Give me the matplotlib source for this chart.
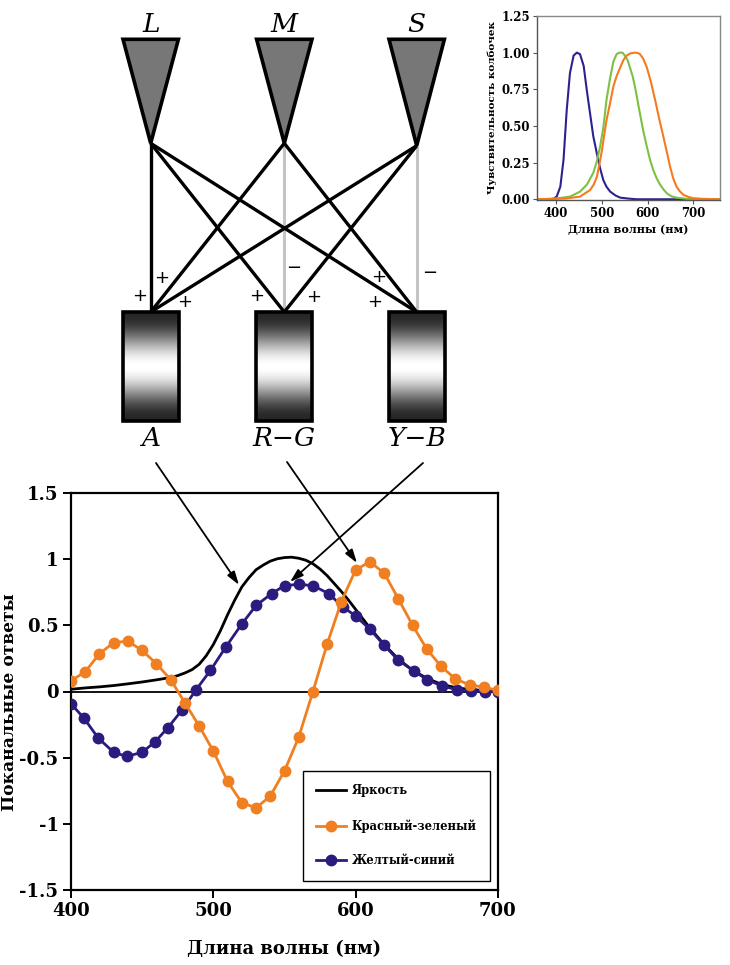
import numpy as np
import matplotlib
matplotlib.use("Agg")
import matplotlib.pyplot as plt
from matplotlib.patches import Polygon, Rectangle
from matplotlib.lines import Line2D

# ---------------- data ----------------
wl_lum = [400, 410, 420, 430, 440, 450, 460, 470, 475, 480, 485, 490, 495, 500, 505,
          510, 515, 520, 525, 530, 535, 540, 545, 550, 555, 560, 565, 570, 575, 580,
          585, 590, 595, 600, 605, 610, 620, 630, 640, 650, 660, 670, 680, 690, 700]
lum = [0.017, 0.027, 0.035, 0.045, 0.058, 0.072, 0.088, 0.106, 0.12, 0.14, 0.165, 0.205,
       0.27, 0.355, 0.46, 0.58, 0.69, 0.79, 0.86, 0.92, 0.955, 0.985, 1.003, 1.012, 1.015,
       1.007, 0.992, 0.965, 0.925, 0.875, 0.815, 0.755, 0.69, 0.62, 0.55, 0.48, 0.355,
       0.245, 0.16, 0.1, 0.055, 0.03, 0.015, 0.008, 0.004]

wl_rg = [400, 410, 420, 430, 440, 450, 460, 470, 480, 490, 500, 510, 520, 530, 540, 550,
         560, 570, 580, 590, 600, 610, 620, 630, 640, 650, 660, 670, 680, 690, 700]
rg = [0.08, 0.15, 0.285, 0.37, 0.38, 0.31, 0.21, 0.09, -0.085, -0.26, -0.45, -0.68,
      -0.84, -0.88, -0.79, -0.6, -0.345, 0.0, 0.36, 0.68, 0.92, 0.98, 0.895, 0.70, 0.5,
      0.32, 0.19, 0.096, 0.05, 0.033, 0.008]

wl_yb = [400, 409, 419, 430, 439, 450, 459, 468, 478, 488, 498, 509, 520, 530, 541, 550,
         560, 570, 581, 591, 600, 610, 620, 630, 641, 650, 661, 671, 681, 691, 700]
yb = [-0.093, -0.2, -0.35, -0.46, -0.49, -0.46, -0.38, -0.275, -0.14, 0.015, 0.16, 0.34,
      0.51, 0.65, 0.74, 0.8, 0.81, 0.8, 0.74, 0.64, 0.57, 0.47, 0.35, 0.235, 0.155, 0.09,
      0.04, 0.015, 0.005, 0.0, 0.0]

series_names = ["Яркость", "Красный-зеленый", "Желтый-синий"]
y_ticks = [-1.5, -1, -0.5, 0, 0.5, 1, 1.5]
y_tick_labels = ["-1.5", "-1", "-0.5", "0", "0.5", "1", "1.5"]
x_ticks = [400, 500, 600, 700]

# inset: cone sensitivities
s_wl = [360, 387, 395, 401, 409, 416, 423, 430, 438, 445, 452, 460, 467, 474, 481, 489,
        496, 503, 510, 518, 530, 540, 560, 576, 620, 700, 758]
s_cone = [0.0, 0.0, 0.005, 0.018, 0.086, 0.27, 0.61, 0.86, 0.98, 1.0, 0.99, 0.91, 0.74,
          0.585, 0.43, 0.31, 0.21, 0.13, 0.085, 0.052, 0.025, 0.011, 0.004, 0.0, 0.0, 0.0, 0.0]
m_wl = [358, 400, 430, 452, 467, 481, 489, 496, 503, 510, 518, 525, 532, 538, 545, 550,
        556, 561, 567, 572, 583, 590, 598, 605, 612, 620, 627, 635, 642, 652, 663, 685, 758]
m_cone = [0.0, 0.005, 0.018, 0.052, 0.1, 0.18, 0.26, 0.36, 0.49, 0.68, 0.83, 0.94, 0.99,
          1.0, 1.0, 0.98, 0.95, 0.9, 0.84, 0.77, 0.585, 0.47, 0.36, 0.27, 0.2, 0.14, 0.1,
          0.065, 0.04, 0.02, 0.011, 0.003, 0.0]
l_wl = [358, 420, 452, 474, 482, 489, 495, 500, 505, 510, 518, 525, 532, 540, 547, 554,
        562, 572, 578, 583, 590, 598, 607, 616, 625, 634, 642, 649, 656, 663, 670, 678,
        690, 700, 720, 758]
l_cone = [0.0, 0.005, 0.018, 0.063, 0.1, 0.154, 0.25, 0.335, 0.44, 0.54, 0.66, 0.77,
          0.84, 0.9, 0.95, 0.98, 0.995, 1.0, 0.998, 0.99, 0.96, 0.9, 0.8, 0.68, 0.55,
          0.43, 0.32, 0.22, 0.14, 0.086, 0.055, 0.03, 0.015, 0.007, 0.003, 0.0]

diagram_top = ["L", "M", "S"]
diagram_bottom = ["A", "R\u2212G", "Y\u2212B"]

# ---------------- styles ----------------
ORANGE = "#F07F22"
BLUE = "#2C1B7E"
GREEN = "#7CC242"
INSET_ORANGE = "#F47B20"
INSET_BLUE = "#2B2290"
SERIF = "DejaVu Serif"

fig = plt.figure(figsize=(7.30, 9.65), dpi=100)

# ---------------- main axes ----------------
ax = fig.add_axes([71 / 730, 1 - 890 / 965, 427 / 730, 397 / 965])
ax.axhline(0, color="black", lw=1.3, zorder=1)
ax.plot(wl_lum, lum, color="black", lw=2.0, zorder=3)
ax.plot(wl_yb, yb, color=BLUE, lw=2.0, marker="o", ms=7.5, zorder=4)
ax.plot(wl_rg, rg, color=ORANGE, lw=2.0, marker="o", ms=7.5, zorder=5)
ax.set_xlim(400, 700)
ax.set_ylim(-1.5, 1.5)
ax.set_xticks(x_ticks)
ax.set_xticklabels([str(v) for v in x_ticks])
ax.set_yticks(y_ticks)
ax.set_yticklabels(y_tick_labels)
for sp in ax.spines.values():
    sp.set_linewidth(1.6)
ax.tick_params(direction="out", length=6, width=1.4, pad=3)
for lab in ax.get_xticklabels() + ax.get_yticklabels():
    lab.set_fontfamily(SERIF)
    lab.set_fontweight("bold")
    lab.set_fontsize(13)
ax.set_xlabel("Длина волны (нм)", fontfamily=SERIF, fontweight="bold", fontsize=13,
              labelpad=14)
fig.text(10 / 730, 1 - 702 / 965, "Поканальные ответы", rotation=90, ha="center",
         va="center", fontfamily=SERIF, fontweight="bold", fontsize=12.3)

handles = [
    Line2D([], [], color="black", lw=2.0),
    Line2D([], [], color=ORANGE, lw=2.0, marker="o", ms=7.5),
    Line2D([], [], color=BLUE, lw=2.0, marker="o", ms=7.5),
]
leg = ax.legend(handles, series_names, loc="upper left", bbox_to_anchor=(0.543, 0.30),
                frameon=True, fancybox=False, edgecolor="black", framealpha=1,
                prop={"family": SERIF, "weight": "bold", "size": 8.3},
                handlelength=2.6, handletextpad=0.5, labelspacing=1.9, borderpad=1.15,
                numpoints=1, borderaxespad=0)
leg.get_frame().set_linewidth(1.0)

# ---------------- inset ----------------
ins = fig.add_axes([537 / 730, 1 - 200 / 965, 183 / 730, 184 / 965])
ins.plot(s_wl, s_cone, color=INSET_BLUE, lw=1.5)
ins.plot(m_wl, m_cone, color=GREEN, lw=1.5)
ins.plot(l_wl, l_cone, color=INSET_ORANGE, lw=1.5)
ins.set_xlim(358, 758)
ins.set_ylim(-0.005, 1.25)
ins.set_xticks([400, 500, 600, 700])
ins.set_yticks([0, 0.25, 0.5, 0.75, 1.0, 1.25])
ins.set_yticklabels(["0.00", "0.25", "0.50", "0.75", "1.00", "1.25"])
for name, sp in ins.spines.items():
    sp.set_linewidth(1.0)
    sp.set_color("#555555" if name in ("left", "bottom") else "#888888")
ins.tick_params(direction="out", length=3, width=0.8, pad=2, colors="#555555",
                labelcolor="black")
for lab in ins.get_xticklabels() + ins.get_yticklabels():
    lab.set_fontfamily(SERIF)
    lab.set_fontweight("bold")
    lab.set_fontsize(8.5)
ins.set_xlabel("Длина волны (нм)", fontfamily=SERIF, fontweight="bold", fontsize=8,
               labelpad=3)
ins.set_ylabel("Чувствительность колбочек", fontfamily=SERIF, fontweight="bold",
               fontsize=7.5, labelpad=3)

# ---------------- diagram overlay (pixel coordinates) ----------------
dax = fig.add_axes([0, 0, 1, 1], zorder=10)
dax.set_facecolor("none")
dax.patch.set_alpha(0)

cone_x = [150.7, 284.3, 416.7]
cone_top_y = 39.3
cone_half_w = 27.7
apex_y = [143.3, 143.3, 145.7]
box_top = 312
box_bot = 421
box_half_w = 28
label_top_y = 25
label_bot_y = 438

# connections
gray = "#C4C4C4"
for i in range(3):
    for j in range(3):
        is_gray = (i == j and i > 0)
        dax.plot([cone_x[i], cone_x[j]], [apex_y[i], box_top],
                 color=gray if is_gray else "black", lw=2.4 if not is_gray else 2.2,
                 zorder=1 if is_gray else 2, solid_capstyle="butt")

# triangles
for i in range(3):
    tri = Polygon([[cone_x[i] - cone_half_w, cone_top_y], [cone_x[i] + cone_half_w, cone_top_y],
                   [cone_x[i], apex_y[i]]], closed=True, facecolor="#777777",
                  edgecolor="black", lw=2.6, joinstyle="miter", zorder=3)
    dax.add_patch(tri)
    dax.text(cone_x[i], label_top_y, diagram_top[i], ha="center", va="center",
             fontfamily=SERIF, fontstyle="italic", fontsize=19, zorder=4)

# boxes with gradient
t = np.linspace(0, 1, 200)
shade = 0.15 + 0.85 * np.sin(np.pi * t) ** 2.2
grad = np.tile(shade[:, None], (1, 2))
for i in range(3):
    x0 = cone_x[i] - box_half_w
    x1 = cone_x[i] + box_half_w
    dax.imshow(grad, cmap="gray", vmin=0, vmax=1, aspect="auto",
               extent=[x0, x1, box_bot, box_top], origin="upper", zorder=3,
               interpolation="bilinear")
    dax.add_patch(Rectangle((x0, box_top), x1 - x0, box_bot - box_top, fill=False,
                            edgecolor="black", lw=2.6, zorder=4))
    dax.text(cone_x[i], label_bot_y, diagram_bottom[i], ha="center", va="center",
             fontfamily=SERIF, fontstyle="italic", fontsize=19, zorder=4)

# signs
signs = [("+", 140, 296), ("+", 162, 278), ("+", 185, 302), ("+", 256.7, 296),
         ("\u2212", 293.3, 268), ("+", 313.3, 297), ("+", 378.3, 277), ("+", 375, 302),
         ("\u2212", 430, 273)]
for s, sx, sy in signs:
    dax.text(sx, sy, s, ha="center", va="center", fontfamily="DejaVu Sans", fontsize=13,
             zorder=5)

# arrows from channels to curves
arrows = [((156, 463), (239, 585)), ((287, 462), (357, 563)), ((423, 463), (290, 582))]
for (sx, sy), (ex, ey) in arrows:
    dax.annotate("", xy=(ex, ey), xytext=(sx, sy),
                 arrowprops=dict(arrowstyle="-|>,head_length=0.8,head_width=0.25",
                                 color="black", lw=1.3, shrinkA=0, shrinkB=0))

dax.set_xlim(0, 730)
dax.set_ylim(965, 0)
dax.axis("off")

fig.savefig("out.png", dpi=100)
